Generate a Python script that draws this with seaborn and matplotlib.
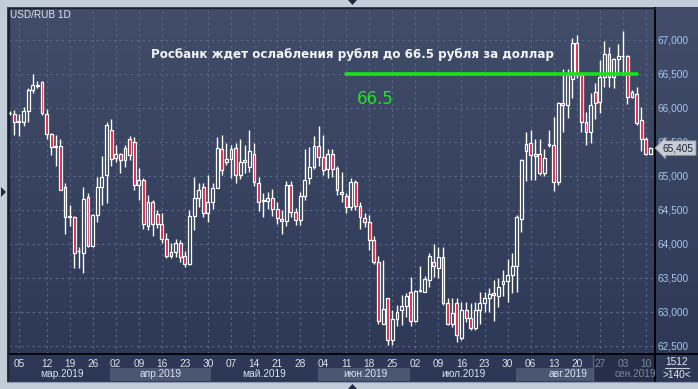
import numpy as np
import pandas as pd
import matplotlib
matplotlib.use("Agg")
import matplotlib.pyplot as plt
import matplotlib.transforms as mtransforms
from matplotlib.patches import Rectangle, Polygon
from matplotlib.lines import Line2D
from matplotlib.colors import LinearSegmentedColormap
import seaborn as sns

# ---------------- data ----------------
opens = [65.92, 65.91, 65.80, 65.79, 65.96, 66.26, 66.33, 66.38, 65.91, 65.62,
         65.43, 65.44, 64.84, 64.40, 64.39, 63.89, 63.87, 64.69, 63.97, 64.42,
         64.84, 65.01, 65.68, 65.27, 65.33, 65.24, 65.55, 65.50, 64.87, 64.94,
         64.27, 64.61, 64.44, 64.30, 64.08, 63.82, 63.88, 64.02, 63.82, 63.71,
         64.41, 64.67, 64.84, 64.46, 64.62, 64.83, 65.39, 65.20, 65.25, 65.41,
         65.02, 65.21, 65.13, 65.33, 64.89, 64.63, 64.63, 64.67, 64.52, 64.36,
         64.34, 64.87, 64.47, 64.35, 64.71, 64.97, 65.13, 65.44, 65.28, 65.10,
         65.32, 65.11, 64.76, 64.70, 64.54, 64.91, 64.56, 64.38, 64.33, 64.06,
         63.74, 62.83, 63.20, 62.59, 62.89, 63.03, 63.09, 63.29, 62.86, 63.31,
         63.30, 63.47, 63.73, 63.64, 63.81, 63.13, 62.83, 63.13, 62.61, 63.03,
         62.91, 62.76, 63.03, 63.13, 63.20, 63.28, 63.24, 63.41, 63.45, 63.54,
         63.68, 64.36, 65.37, 65.48, 65.30, 65.33, 65.05, 65.45, 65.46, 64.91,
         66.07, 66.04, 66.43, 66.95, 66.49, 65.79, 65.64, 66.24, 66.09, 66.45,
         66.80, 66.46, 66.72, 66.76, 66.77, 66.16, 66.20, 65.83, 65.54, 65.33]
highs = [65.95, 65.97, 65.91, 66.02, 66.29, 66.50, 66.40, 66.39, 65.98, 65.63,
         65.60, 65.55, 64.90, 64.58, 64.41, 63.96, 64.84, 64.75, 64.44, 64.99,
         65.29, 65.79, 65.84, 65.46, 65.34, 65.46, 65.59, 65.58, 65.11, 64.97,
         64.72, 64.65, 64.50, 64.45, 64.16, 64.02, 64.08, 64.06, 63.90, 64.50,
         64.98, 64.90, 64.90, 65.01, 64.89, 65.57, 65.60, 65.48, 65.46, 65.48,
         65.54, 65.46, 65.68, 65.48, 64.99, 64.75, 64.77, 64.81, 64.62, 64.50,
         64.93, 64.93, 64.53, 64.77, 65.40, 65.42, 65.59, 65.74, 65.60, 65.39,
         65.39, 65.14, 65.06, 64.75, 64.97, 64.94, 64.62, 64.45, 64.43, 64.11,
         63.82, 63.77, 63.20, 63.03, 63.10, 63.25, 63.28, 63.52, 63.32, 63.67,
         63.53, 63.86, 64.00, 63.95, 63.95, 63.20, 63.20, 63.20, 63.15, 63.15,
         63.13, 63.15, 63.30, 63.30, 63.35, 63.47, 63.50, 63.62, 63.78, 63.86,
         64.42, 65.25, 65.65, 65.68, 65.55, 65.55, 65.40, 65.68, 65.87, 66.09,
         66.58, 66.58, 67.03, 67.07, 66.50, 65.94, 66.22, 66.36, 66.71, 66.98,
         66.90, 66.73, 66.94, 67.13, 66.78, 66.26, 66.31, 66.02, 65.58, 65.43]
lows = [65.90, 65.60, 65.59, 65.73, 65.79, 66.22, 66.30, 65.89, 65.54, 65.31,
        65.14, 64.80, 64.14, 64.26, 63.65, 63.64, 63.58, 63.96, 63.96, 64.32,
        64.57, 64.60, 65.14, 65.21, 65.04, 65.13, 65.24, 64.79, 64.65, 64.22,
        64.21, 64.12, 64.23, 64.02, 63.79, 63.79, 63.81, 63.74, 63.66, 63.69,
        64.21, 64.55, 64.40, 64.32, 64.51, 64.83, 65.02, 65.16, 64.97, 64.90,
        64.96, 65.05, 65.06, 64.85, 64.48, 64.39, 64.51, 64.41, 64.30, 64.15,
        64.27, 64.40, 64.28, 64.28, 64.65, 64.88, 65.10, 65.14, 65.02, 64.97,
        64.99, 64.72, 64.61, 64.45, 64.50, 64.50, 64.22, 64.25, 63.91, 63.70,
        62.83, 62.82, 62.52, 62.52, 62.79, 62.81, 62.93, 62.79, 62.85, 63.30,
        63.30, 63.37, 63.52, 63.50, 63.10, 62.81, 62.78, 62.56, 62.59, 62.85,
        62.74, 62.74, 62.83, 63.00, 63.00, 62.86, 63.08, 63.23, 63.15, 63.28,
        63.30, 64.18, 64.92, 64.94, 64.94, 65.02, 65.00, 65.43, 64.78, 64.87,
        65.65, 65.85, 66.14, 66.44, 65.64, 65.45, 65.48, 65.84, 65.92, 66.31,
        66.31, 66.29, 66.49, 66.49, 66.06, 66.14, 65.75, 65.37, 65.31, 65.32]
closes = [65.93, 65.79, 65.81, 65.96, 66.26, 66.34, 66.34, 65.92, 65.62, 65.42,
          65.44, 64.80, 64.40, 64.41, 63.86, 63.90, 64.66, 63.97, 64.43, 64.84,
          64.99, 65.75, 65.25, 65.32, 65.24, 65.41, 65.31, 64.87, 64.94, 64.29,
          64.61, 64.29, 64.30, 64.08, 63.82, 63.88, 64.02, 63.81, 63.71, 64.41,
          64.67, 64.79, 64.46, 64.61, 64.83, 65.41, 65.09, 65.25, 65.39, 65.02,
          65.21, 65.23, 65.36, 64.91, 64.62, 64.64, 64.67, 64.52, 64.38, 64.34,
          64.87, 64.47, 64.35, 64.71, 64.94, 65.13, 65.44, 65.28, 65.09, 65.32,
          65.10, 64.79, 64.74, 64.54, 64.91, 64.56, 64.40, 64.32, 64.06, 63.74,
          62.87, 63.05, 62.59, 62.89, 63.00, 63.09, 63.24, 62.86, 63.31, 63.32,
          63.48, 63.82, 63.68, 63.81, 63.13, 62.83, 62.98, 62.66, 63.03, 62.91,
          62.76, 63.03, 63.13, 63.20, 63.27, 63.25, 63.37, 63.45, 63.54, 63.67,
          64.39, 65.24, 65.47, 65.31, 65.33, 65.05, 65.26, 65.47, 64.91, 66.07,
          66.04, 66.49, 66.95, 66.49, 65.79, 65.64, 66.04, 66.08, 66.45, 66.80,
          66.46, 66.72, 66.76, 66.77, 66.16, 66.23, 65.78, 65.54, 65.32, 65.41]

week_labels = ["05", "12", "19", "26", "02", "09", "16", "23", "30", "07",
               "14", "21", "28", "04", "11", "18", "25", "02", "09", "16",
               "23", "30", "06", "13", "20", "27", "03", "10"]
week_pos = [2, 8, 13, 18, 23, 28, 33, 38, 43, 48, 53, 58, 63, 68, 73, 78,
            83, 88, 93, 98, 103, 108, 113, 118, 123, 128, 133, 138]
month_labels = ["мар.2019", "апр.2019", "май.2019", "июн.2019",
                "июл.2019", "авг.2019", "сен.2019"]
price_ticks = [62.5, 63.0, 63.5, 64.0, 64.5, 65.0, 65.5, 66.0, 66.5, 67.0]
target_level = 66.5
target_span = [72.9, 136.1]
title_text = "Росбанк ждет ослабления рубля до 66.5 рубля за доллар"
target_text = "66.5"
chart_label = "USD/RUB 1D"
last_price_label = "65,405"

# ---------------- style ----------------
sns.set_style("dark")
plt.rcParams['font.family'] = ['DejaVu Sans']

W, H = 698, 389
def fx(x):
    return x / W
def fy(y):
    return 1 - y / H

fig = plt.figure(figsize=(W / 100, H / 100), dpi=100)

cmap = LinearSegmentedColormap.from_list('bg', ['#414d69', '#2b3754'])
bg = fig.add_axes([0, 0, 1, 1], zorder=-5)
bg.set_axis_off()
bg.imshow(np.linspace(0, 1, 256).reshape(-1, 1), aspect='auto', cmap=cmap,
          extent=[0, 1, 0, 1], origin='upper')

ax_left, ax_bottom = fx(9), fy(354)
ax_w, ax_h = (655 - 9) / W, (354 - 8) / H
ax = fig.add_axes([ax_left, ax_bottom, ax_w, ax_h], zorder=1)
ax.patch.set_alpha(0)
ylo, yhi = 62.382, 67.47
ax.set_xlim(-0.15, 139.98)
ax.set_ylim(ylo, yhi)

# grid
ax.set_yticks(price_ticks)
ax.set_xticks(week_pos)
ax.grid(True, color='#5b6681', ls=(0, (2.2, 3.0)), lw=0.8)
ax.set_axisbelow(True)

# candles
df = pd.DataFrame({'o': opens, 'h': highs, 'l': lows, 'c': closes})
df['i'] = np.arange(len(df))
top = np.maximum(df.o, df.c)
bot = np.minimum(df.o, df.c)
up = df.c >= df.o

def bg_at(v):
    f = ax_bottom + (v - ylo) / (yhi - ylo) * ax_h
    return cmap(1 - f)

ax.vlines(df.i, top, df.h, color='white', lw=1.0, zorder=3)
ax.vlines(df.i, df.l, bot, color='white', lw=1.0, zorder=3)
face = [bg_at((t + b) / 2) if u else '#e2173d' for t, b, u in zip(top, bot, up)]
ax.bar(df.i, np.clip(top - bot, 0.006, None), bottom=bot, width=0.62,
       color=face, edgecolor='white', linewidth=0.9, zorder=4)

# target line (seaborn)
sns.lineplot(x=target_span, y=[target_level, target_level], color='#17e417',
             lw=2.6, ax=ax, zorder=5)

ax.text(74.3, 66.79, title_text, ha='center', va='center', color='#f3f5f9',
        fontsize=8.6, fontweight='bold', zorder=6)
ax.text(75.3, 66.13, target_text, ha='left', va='center', color='#22e022',
        fontsize=12, zorder=6)

# axes ticks
ax.yaxis.tick_right()
ax.set_yticklabels([f"{v:.3f}".replace('.', ',') for v in price_ticks])
ax.tick_params(axis='y', length=0, pad=2, labelcolor='#a8c6ee', labelsize=7.3)
ax.set_xticklabels(week_labels)
ax.tick_params(axis='x', length=0, pad=3.5, labelcolor='#dbe3ef', labelsize=7.3)
for lbl in ax.get_yticklabels() + ax.get_xticklabels():
    lbl.set_fontfamily('Liberation Sans')
for lbl in ax.get_xticklabels()[-3:]:
    lbl.set_color('#7c879c')
ax.set_xlabel('')
ax.set_ylabel('')

for side in ['left', 'top']:
    ax.spines[side].set_color('#1a2234')
    ax.spines[side].set_linewidth(1.0)
for side in ['right', 'bottom']:
    ax.spines[side].set_color('#000000')
    ax.spines[side].set_linewidth(1.3)
    ax.spines[side].set_visible(True)
ax.spines['left'].set_visible(True)
ax.spines['top'].set_visible(True)

# last price box
blend = mtransforms.blended_transform_factory(ax.transAxes, ax.transData)
ax.text(1.012, closes[-1], last_price_label, transform=blend, ha='left', va='center',
        fontsize=7.3, color='#1a2438', family='Liberation Sans', zorder=8, clip_on=False,
        bbox=dict(boxstyle='larrow,pad=0.22', fc='#c9cdd4', ec='#8e96a4', lw=0.6))

# month bands and labels in the lower strip
for x0, x1 in [(110, 211), (318, 410), (516, 593)]:
    fig.add_artist(Rectangle((fx(x0), fy(381)), (x1 - x0) / W, 13 / H,
                             transform=fig.transFigure, fc='#4a5672', ec='none', zorder=-2))
fig.add_artist(Rectangle((fx(593), fy(381)), 62 / W, 26 / H, transform=fig.transFigure,
                         fc='#262f47', ec='none', zorder=-2))
fig.add_artist(Line2D([fx(593), fx(593)], [fy(355), fy(381)], transform=fig.transFigure,
                      color='#56607a', lw=1, zorder=-1))
month_x = [62, 161, 264, 365, 463, 568, 635]
for lab, xm in zip(month_labels, month_x):
    fig.text(fx(xm), fy(374), lab, ha='center', va='center', fontsize=7.3,
             family='Liberation Sans', color='#7c879c' if lab.startswith('сен') else '#dbe3ef',
             zorder=5)

fig.text(fx(677), fy(362), "1512", ha='center', va='center', fontsize=7.3,
         family='Liberation Sans', color='#e4e9f1', zorder=5)
fig.text(fx(677), fy(374.5), ">140<", ha='center', va='center', fontsize=7.3,
         family='Liberation Sans', color='#e4e9f1', zorder=5)
fig.add_artist(Line2D([fx(665), fx(689)], [fy(368), fy(368)], transform=fig.transFigure,
                      color='#c9d1de', lw=0.8, zorder=5))

# frame lines
fig.add_artist(Line2D([fx(655), fx(698)], [fy(354), fy(354)], transform=fig.transFigure,
                      color='#000000', lw=1.3, zorder=4))
fig.add_artist(Line2D([fx(655), fx(655)], [fy(354), fy(381)], transform=fig.transFigure,
                      color='#000000', lw=1.3, zorder=4))
fig.add_artist(Line2D([fx(8), fx(8)], [fy(8), fy(381)], transform=fig.transFigure,
                      color='#1a2234', lw=1.0, zorder=4))

# light outer strips
strip = '#c3cdda'
fig.add_artist(Rectangle((0, 0), fx(7.5), 1, transform=fig.transFigure, fc=strip, ec='none', zorder=6))
fig.add_artist(Rectangle((0, fy(7)), 1, 7 / H, transform=fig.transFigure, fc=strip, ec='none', zorder=6))
fig.add_artist(Rectangle((0, 0), 1, 7.5 / H, transform=fig.transFigure, fc=strip, ec='none', zorder=6))
fig.add_artist(Line2D([fx(7.5), fx(698)], [fy(381.5), fy(381.5)], transform=fig.transFigure,
                      color='#8f9bb0', lw=0.8, zorder=6))

tri = '#1f2a3e'
fig.add_artist(Polygon([(fx(348), fy(0)), (fx(357), fy(0)), (fx(352.5), fy(5))],
                       closed=True, transform=fig.transFigure, fc=tri, ec='none', zorder=7))
fig.add_artist(Polygon([(fx(348), fy(389)), (fx(357), fy(389)), (fx(352.5), fy(384))],
                       closed=True, transform=fig.transFigure, fc=tri, ec='none', zorder=7))
fig.add_artist(Polygon([(fx(1), fy(187)), (fx(1), fy(197)), (fx(6), fy(192))],
                       closed=True, transform=fig.transFigure, fc=tri, ec='none', zorder=7))

fig.text(fx(10), fy(15), chart_label, ha='left', va='center', fontsize=7.2,
         family='Liberation Sans', color='#dfe7f3', zorder=7)

fig.savefig('out.png', dpi=100, facecolor='#2f3b58')
